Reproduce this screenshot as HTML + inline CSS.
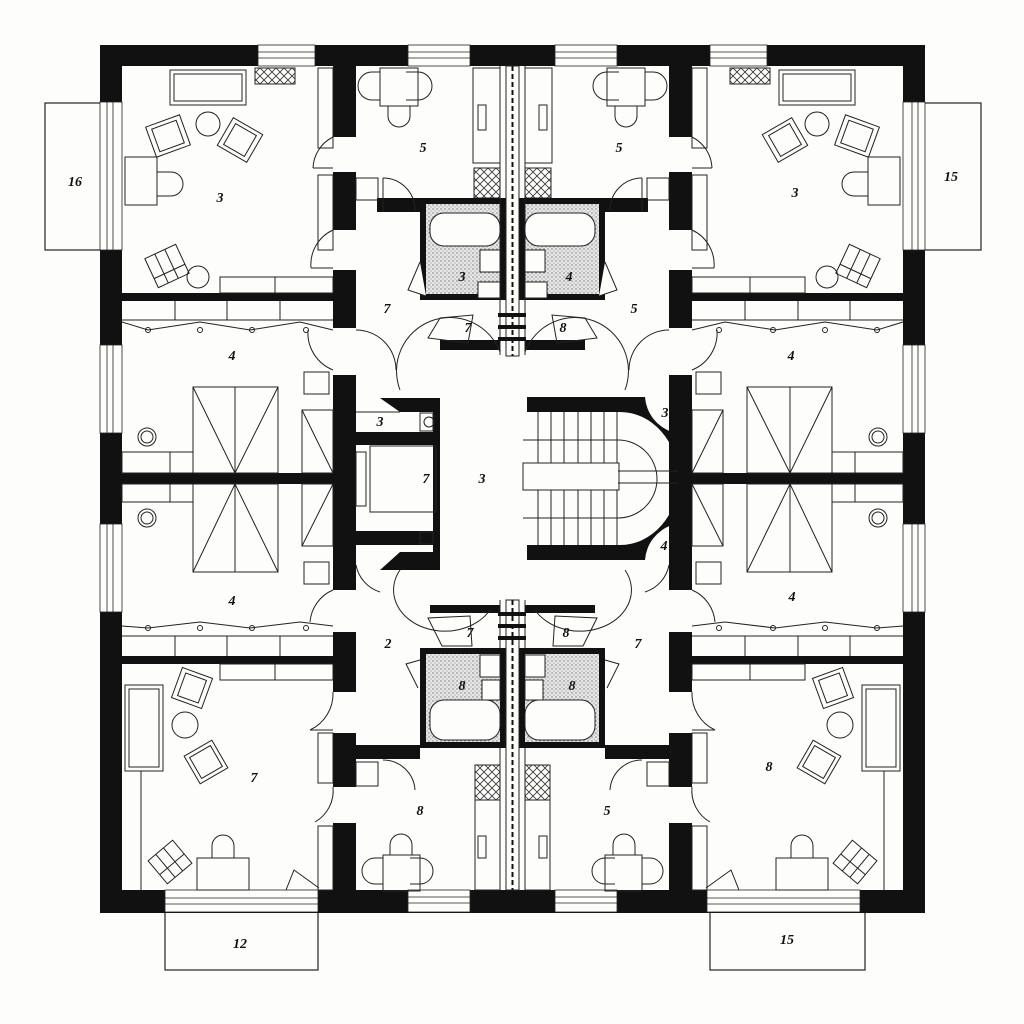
<!DOCTYPE html>
<html><head><meta charset="utf-8"><style>
html,body{margin:0;padding:0;background:#fdfdfc;}
svg{display:block}
text{font-family:"Liberation Serif",serif;font-style:italic;font-weight:bold;font-size:14px;fill:#111;text-anchor:middle}
</style></head><body>
<svg width="1024" height="1024" viewBox="0 0 1024 1024" xmlns="http://www.w3.org/2000/svg">
<defs>
<pattern id="dots" width="4" height="4" patternUnits="userSpaceOnUse"><rect width="4" height="4" fill="#e6e6e6"/><circle cx="1" cy="1" r="0.7" fill="#777"/><circle cx="3" cy="3" r="0.6" fill="#999"/></pattern>
<pattern id="cross" width="8" height="8" patternUnits="userSpaceOnUse"><path d="M0 0L8 8M8 0L0 8" stroke="#333" stroke-width="0.8"/></pattern>
</defs>
<rect width="1024" height="1024" fill="#fdfdfc"/>

<g fill="none" stroke="#222" stroke-width="1.2">
<rect x="45" y="103" width="58" height="147"/>
<rect x="921" y="103" width="60" height="147"/>
<rect x="165" y="910" width="153" height="60"/>
<rect x="710" y="910" width="155" height="60"/>
</g>

<g id="half">
 <g fill="#111">
  <rect x="100" y="45" width="413" height="21"/>
  <rect x="100" y="45" width="22" height="868"/>
  <rect x="100" y="890" width="413" height="23"/>
  <rect x="333" y="45" width="23" height="92"/>
  <rect x="333" y="172" width="23" height="58"/>
  <rect x="333" y="270" width="23" height="58"/>
  <rect x="333" y="375" width="23" height="215"/>
  <rect x="333" y="632" width="23" height="60"/>
  <rect x="333" y="733" width="23" height="54"/>
  <rect x="333" y="823" width="23" height="70"/>
  <rect x="122" y="293" width="211" height="8"/>
  <rect x="122" y="473" width="211" height="11"/>
  <rect x="122" y="656" width="211" height="8"/>
  <rect x="377" y="198" width="48" height="14"/>
  <rect x="355" y="745" width="65" height="14"/>
  <rect x="440" y="340" width="60" height="10"/>
  <rect x="430" y="605" width="70" height="8"/>
 </g>
 <g fill="#fdfdfc" stroke="#222" stroke-width="0.8">
  <rect x="258" y="45" width="57" height="21"/><line x1="258" y1="52" x2="315" y2="52"/><line x1="258" y1="58" x2="315" y2="58"/>
  <rect x="408" y="45" width="62" height="21"/><line x1="408" y1="52" x2="470" y2="52"/><line x1="408" y1="58" x2="470" y2="58"/>
  <rect x="100" y="102" width="22" height="148"/><line x1="107" y1="102" x2="107" y2="250"/><line x1="113" y1="102" x2="113" y2="250"/>
  <rect x="100" y="345" width="22" height="88"/><line x1="107" y1="345" x2="107" y2="433"/><line x1="113" y1="345" x2="113" y2="433"/>
  <rect x="100" y="524" width="22" height="88"/><line x1="107" y1="524" x2="107" y2="612"/><line x1="113" y1="524" x2="113" y2="612"/>
  <rect x="165" y="890" width="153" height="22"/><line x1="165" y1="898" x2="318" y2="898"/><line x1="165" y1="904" x2="318" y2="904"/>
  <rect x="408" y="890" width="62" height="22"/><line x1="408" y1="897" x2="470" y2="897"/><line x1="408" y1="903" x2="470" y2="903"/>
 </g>
 <g fill="none" stroke="#222" stroke-width="1">
  <rect x="170" y="70" width="76" height="35"/><rect x="174" y="74" width="68" height="27"/>
  <rect x="255" y="68" width="40" height="16" fill="url(#cross)"/>
  <g transform="rotate(-20 168 136)"><rect x="150" y="120" width="36" height="32"/><rect x="155" y="124" width="26" height="24"/></g>
  <circle cx="208" cy="124" r="12"/>
  <g transform="rotate(30 240 140)"><rect x="223" y="124" width="34" height="32"/><rect x="228" y="128" width="24" height="24"/></g>
  <rect x="125" y="157" width="32" height="48"/><path d="M157 172 h14 a12 12 0 0 1 0 24 h-14"/>
  <g transform="rotate(-25 167 266)"><rect x="150" y="250" width="34" height="32"/><line x1="161" y1="250" x2="161" y2="282"/><line x1="172" y1="250" x2="172" y2="282"/><line x1="150" y1="272" x2="184" y2="272"/></g>
  <circle cx="198" cy="277" r="11"/>
  <rect x="220" y="277" width="55" height="16"/><rect x="275" y="277" width="58" height="16"/>
  <rect x="318" y="68" width="15" height="80"/><rect x="318" y="175" width="15" height="75"/>
  <path d="M333 137 A 36 36 0 0 0 313 168"/><line x1="313" y1="168" x2="333" y2="168"/>
  <path d="M333 230 A 38 38 0 0 0 311 268"/><line x1="311" y1="268" x2="333" y2="268"/>
  <rect x="380" y="68" width="38" height="38"/><path d="M380 72 h-8 a14 14 0 0 0 0 28 h8"/><path d="M406 72 h12 a14 14 0 0 1 0 28 h-12"/>
  <path d="M388 106 v10 a11 11 0 0 0 22 0 v-10"/>
  <rect x="473" y="68" width="27" height="95"/><rect x="478" y="105" width="8" height="25"/>
  <rect x="474" y="168" width="26" height="30" fill="url(#cross)"/>
  <rect x="356" y="178" width="22" height="22"/><path d="M383 178 A 32 32 0 0 1 415 210"/><line x1="383" y1="178" x2="383" y2="212"/>
  <path d="M356 330 A 40 40 0 0 1 396 370"/>
  <path d="M500 352 A 40 40 0 0 0 400 390"/>
  <path d="M356 565 A 35 35 0 0 0 380 592"/>
  <path d="M400 570 A 50 40 0 0 0 490 610"/>
  <rect x="423" y="201" width="80" height="96" fill="url(#dots)" stroke="#111" stroke-width="6"/>
  <rect x="430" y="213" width="70" height="33" rx="14" fill="#fdfdfc"/>
  <rect x="480" y="250" width="20" height="22" fill="#fdfdfc"/><rect x="478" y="282" width="22" height="16" fill="#fdfdfc"/>
  <path d="M420 262 l-12 28 l18 6" fill="#fdfdfc"/>
  <path d="M440 318 l-12 20 l40 5 l5 -28 z"/>
  <line x1="500" y1="66" x2="500" y2="355"/><line x1="506" y1="66" x2="506" y2="355"/>
  <line x1="500" y1="600" x2="500" y2="890"/><line x1="506" y1="600" x2="506" y2="890"/>
  <line x1="122" y1="320" x2="333" y2="320"/>
  <line x1="175" y1="301" x2="175" y2="320"/><line x1="227" y1="301" x2="227" y2="320"/><line x1="280" y1="301" x2="280" y2="320"/>
  <path d="M122 322 L148 330 L200 322 L250 330 L300 322 L333 330"/>
  <circle cx="148" cy="330" r="2.5"/><circle cx="200" cy="330" r="2.5"/><circle cx="252" cy="330" r="2.5"/><circle cx="306" cy="330" r="2.5"/>
  <path d="M308 330 A 40 40 0 0 0 333 370"/>
  <rect x="193" y="387" width="85" height="86"/><line x1="235" y1="387" x2="235" y2="473"/><path d="M193 387 L235 473 L278 387"/>
  <rect x="304" y="372" width="25" height="22"/><rect x="302" y="410" width="31" height="63"/><path d="M302 410 L333 473"/>
  <circle cx="147" cy="437" r="9"/><circle cx="147" cy="437" r="6"/>
  <rect x="122" y="452" width="48" height="21"/><rect x="170" y="452" width="23" height="21"/>
  <line x1="122" y1="636" x2="333" y2="636"/>
  <line x1="175" y1="636" x2="175" y2="656"/><line x1="227" y1="636" x2="227" y2="656"/><line x1="280" y1="636" x2="280" y2="656"/>
  <path d="M122 626 L148 628 L200 622 L250 628 L300 622 L333 626"/>
  <circle cx="148" cy="628" r="2.5"/><circle cx="200" cy="628" r="2.5"/><circle cx="252" cy="628" r="2.5"/><circle cx="306" cy="628" r="2.5"/>
  <path d="M333 590 A 38 38 0 0 0 310 622"/>
  <rect x="193" y="484" width="85" height="88"/><line x1="235" y1="484" x2="235" y2="572"/><path d="M193 572 L235 484 L278 572"/>
  <rect x="304" y="562" width="25" height="22"/><rect x="302" y="484" width="31" height="62"/><path d="M302 546 L333 484"/>
  <circle cx="147" cy="518" r="9"/><circle cx="147" cy="518" r="6"/>
  <rect x="122" y="484" width="48" height="18"/><rect x="170" y="484" width="23" height="18"/>
  <rect x="220" y="664" width="55" height="16"/><rect x="275" y="664" width="58" height="16"/>
  <rect x="125" y="685" width="38" height="86"/><rect x="129" y="689" width="30" height="78"/>
  <g transform="rotate(20 192 688)"><rect x="176" y="672" width="32" height="32"/><rect x="181" y="676" width="22" height="24"/></g>
  <circle cx="185" cy="725" r="13"/>
  <g transform="rotate(-30 206 762)"><rect x="190" y="746" width="32" height="32"/><rect x="194" y="750" width="24" height="24"/></g>
  <line x1="141" y1="771" x2="141" y2="890"/>
  <g transform="rotate(-40 170 862)"><rect x="154" y="847" width="32" height="30"/><line x1="164" y1="847" x2="164" y2="877"/><line x1="174" y1="847" x2="174" y2="877"/><line x1="154" y1="865" x2="186" y2="865"/></g>
  <rect x="197" y="858" width="52" height="32"/><path d="M212 858 v-12 a11 11 0 0 1 22 0 v12"/>
  <rect x="318" y="733" width="15" height="50"/><rect x="318" y="826" width="15" height="64"/>
  <path d="M333 692 A 40 40 0 0 1 310 730"/><line x1="310" y1="730" x2="333" y2="730"/>
  <path d="M333 787 A 36 36 0 0 1 315 822"/>
  <path d="M286 890 l8 -20 l25 18"/>
  <rect x="356" y="762" width="22" height="24"/><path d="M383 760 A 32 32 0 0 1 415 790"/>
  <rect x="383" y="855" width="37" height="36"/><path d="M383 858 h-8 a13 13 0 0 0 0 26 h8"/><path d="M410 858 h10 a13 13 0 0 1 0 26 h-10"/>
  <path d="M390 855 v-10 a11 11 0 0 1 22 0 v10"/>
  <rect x="475" y="765" width="25" height="125"/><rect x="478" y="836" width="8" height="22"/>
  <rect x="475" y="765" width="25" height="35" fill="url(#cross)"/>
  <rect x="423" y="651" width="80" height="94" fill="url(#dots)" stroke="#111" stroke-width="6"/>
  <rect x="430" y="700" width="70" height="40" rx="14" fill="#fdfdfc"/>
  <rect x="480" y="655" width="20" height="22" fill="#fdfdfc"/><rect x="482" y="680" width="18" height="20" fill="#fdfdfc"/>
  <path d="M420 660 l-14 4 l12 24" fill="#fdfdfc"/>
  <path d="M428 618 l14 28 h30 l-2 -30 z"/>
 </g>
</g>
<use href="#half" transform="translate(1025,0) scale(-1,1)"/>

<g fill="#111">
 <rect x="506" y="66" width="13" height="290" fill="#fdfdfc" stroke="#222"/>
 <rect x="506" y="600" width="13" height="290" fill="#fdfdfc" stroke="#222"/>
</g>
<g stroke="#111" stroke-width="2">
 <line x1="512.5" y1="66" x2="512.5" y2="356" stroke-dasharray="5 3"/>
 <line x1="512.5" y1="600" x2="512.5" y2="890" stroke-dasharray="5 3"/>
</g>
<g fill="#111">
 <rect x="498" y="313" width="28" height="4"/><rect x="498" y="325" width="28" height="4"/><rect x="498" y="337" width="28" height="4"/>
 <rect x="498" y="612" width="28" height="4"/><rect x="498" y="624" width="28" height="4"/><rect x="498" y="636" width="28" height="4"/>
</g>

<g fill="#111">
 <path d="M380 398 H440 V570 H380 L400 552 H433 V545 H356 V531 H433 V445 H356 V432 H433 V412 H400 Z"/>
</g>
<g fill="none" stroke="#222" stroke-width="1">
 <rect x="370" y="446" width="66" height="66"/>
 <rect x="356" y="452" width="10" height="54"/>
 <rect x="420" y="413" width="13" height="18"/><circle cx="429" cy="422" r="5"/>
 <rect x="420" y="532" width="13" height="12"/>
 <line x1="356" y1="412" x2="400" y2="412"/>
</g>

<!-- STAIRS -->
<path fill="#111" fill-rule="evenodd" d="M527 397 H645 A40 40 0 0 0 672 432 V525 A40 40 0 0 0 645 560 H527 Z M527 412 H620 A58 66 0 0 1 620 545 H527 Z"/>
<rect x="527" y="412" width="3" height="133" fill="#fdfdfc"/>
<g fill="none" stroke="#222" stroke-width="1">
 <rect x="523" y="463" width="96" height="27"/>
 <line x1="523" y1="440" x2="618" y2="440"/><line x1="523" y1="518" x2="618" y2="518"/>
 <path d="M618 440 A38 38 0 0 1 618 518"/>
 <line x1="618" y1="471" x2="678" y2="471"/><line x1="618" y1="483" x2="678" y2="483"/>
 <line x1="538" y1="412" x2="538" y2="463"/><line x1="551" y1="412" x2="551" y2="463"/><line x1="564" y1="412" x2="564" y2="463"/><line x1="578" y1="412" x2="578" y2="463"/><line x1="591" y1="412" x2="591" y2="463"/><line x1="604" y1="412" x2="604" y2="463"/><line x1="617" y1="412" x2="617" y2="463"/>
 <line x1="538" y1="490" x2="538" y2="545"/><line x1="551" y1="490" x2="551" y2="545"/><line x1="564" y1="490" x2="564" y2="545"/><line x1="578" y1="490" x2="578" y2="545"/><line x1="591" y1="490" x2="591" y2="545"/><line x1="604" y1="490" x2="604" y2="545"/><line x1="617" y1="490" x2="617" y2="545"/>
</g>

<text x="75" y="186">16</text>
<text x="220" y="202">3</text>
<text x="423" y="152">5</text>
<text x="619" y="152">5</text>
<text x="795" y="197">3</text>
<text x="951" y="181">15</text>
<text x="387" y="313">7</text>
<text x="462" y="281">3</text>
<text x="569" y="281">4</text>
<text x="634" y="313">5</text>
<text x="468" y="332">7</text>
<text x="563" y="332">8</text>
<text x="232" y="360">4</text>
<text x="791" y="360">4</text>
<text x="380" y="426">3</text>
<text x="665" y="417">3</text>
<text x="426" y="483">7</text>
<text x="482" y="483">3</text>
<text x="376" y="540">3</text>
<text x="664" y="550">4</text>
<text x="232" y="605">4</text>
<text x="792" y="601">4</text>
<text x="470" y="637">7</text>
<text x="566" y="637">8</text>
<text x="388" y="648">2</text>
<text x="638" y="648">7</text>
<text x="462" y="690">8</text>
<text x="572" y="690">8</text>
<text x="254" y="782">7</text>
<text x="769" y="771">8</text>
<text x="420" y="815">8</text>
<text x="607" y="815">5</text>
<text x="240" y="948">12</text>
<text x="787" y="944">15</text>
</svg>
</body></html>
